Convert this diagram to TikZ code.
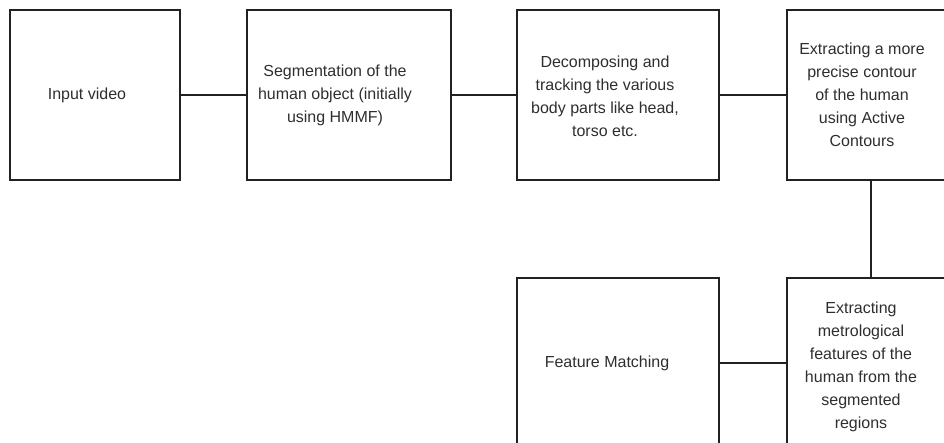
\documentclass[tikz,border=0pt]{standalone}
\usepackage{fontspec}
\setmainfont{Liberation Sans}
\begin{document}
\begin{tikzpicture}[x=1pt,y=-1pt,
  stage/.style={draw=black!87, line width=2pt, rectangle, minimum height=170pt, inner sep=0pt},
  caption/.style={align=center, font=\fontsize{16}{23}\selectfont, text=black!82},
  link/.style={draw=black!87, line width=2pt}]
\useasboundingbox (0,0) rectangle (944,443);
\clip (0,0) rectangle (944,443);

% process stages
\node[stage, minimum width=170pt] (input) at (95,95) {};
\node[stage, minimum width=204pt] (seg)   at (349,95) {};
\node[stage, minimum width=202pt] (parts) at (618,95) {};
\node[stage, minimum width=168pt] (cont)  at (871,95) {};
\node[stage, minimum width=168pt] (metro) at (871,363) {};
\node[stage, minimum width=202pt] (match) at (618,363) {};

% stage descriptions
\node[caption] (inputtext) at ([xshift=-8pt]input.center) {Input video};
\node[caption] (segtext)   at ([xshift=-14pt]seg.center) {Segmentation of the\\human object (initially\\using HMMF)};
\node[caption] (partstext) at ([xshift=-13pt,yshift=-1pt]parts.center) {Decomposing and\\tracking the various\\body parts like head,\\torso etc.};
\node[caption] (conttext)  at ([xshift=-9pt]cont.center) {Extracting a more\\precise contour\\of the human\\using Active\\Contours};
\node[caption] (metrotext) at ([xshift=-10pt,yshift=-4pt]metro.center) {Extracting\\metrological\\features of the\\human from the\\segmented\\regions};
\node[caption] (matchtext) at ([xshift=-11pt]match.center) {Feature Matching};

% connectors
\draw[link] (input) -- (seg);
\draw[link] (seg) -- (parts);
\draw[link] (parts) -- (cont);
\draw[link] (cont) -- (metro);
\draw[link] (metro) -- (match);
\end{tikzpicture}
\end{document}
